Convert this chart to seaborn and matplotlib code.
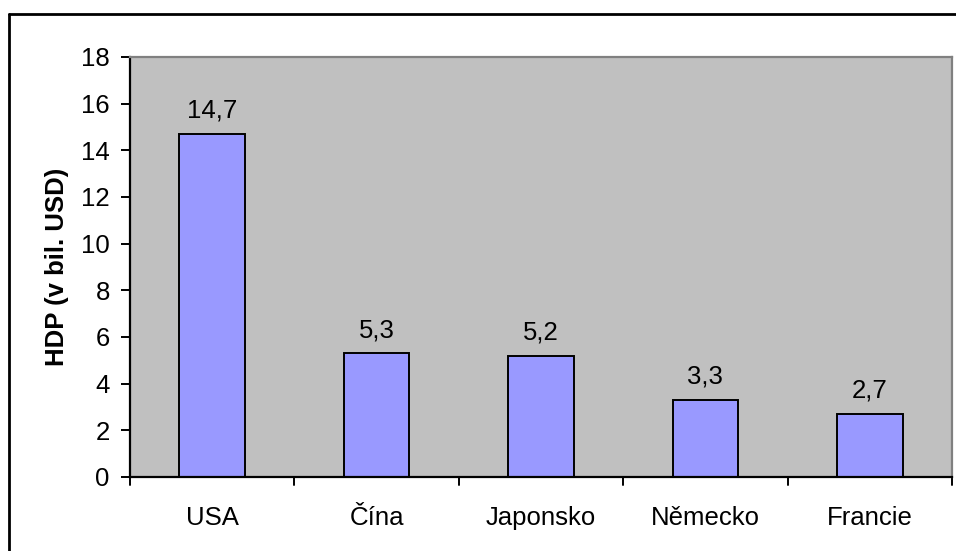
import matplotlib
matplotlib.use("Agg")
import matplotlib.pyplot as plt
import seaborn as sns
import pandas as pd
from matplotlib.lines import Line2D

categories = ["USA", "Čína", "Japonsko", "Německo", "Francie"]
values = [14.7, 5.3, 5.2, 3.3, 2.7]
yticks = [0, 2, 4, 6, 8, 10, 12, 14, 16, 18]

sns.set_theme(style="white")
plt.rcParams['font.family'] = ['Liberation Sans', 'DejaVu Sans']
plt.rcParams['text.color'] = 'black'
plt.rcParams['axes.labelcolor'] = 'black'
plt.rcParams['xtick.color'] = 'black'
plt.rcParams['ytick.color'] = 'black'

df = pd.DataFrame({"country": categories, "hdp": values})

W, H = 956, 551
FS = 18.5
fig = plt.figure(figsize=(W / 100, H / 100), dpi=100)
fig.patch.set_facecolor("white")
# figure border (left and top visible, cropped at right/bottom)
fig.add_artist(Line2D([8.5 / W, 8.5 / W], [0, 1 - 14 / H], transform=fig.transFigure,
                      color="black", linewidth=2))
fig.add_artist(Line2D([8.5 / W, 1], [1 - 14 / H, 1 - 14 / H], transform=fig.transFigure,
                      color="black", linewidth=2))

ax = fig.add_axes([130 / W, 1 - 477 / H, (952 - 130) / W, (477 - 57) / H])
ax.set_facecolor("#C0C0C0")

sns.barplot(data=df, x="country", y="hdp", ax=ax, color="#9999FF",
            edgecolor="black", linewidth=1.4, width=0.4, saturation=1)

ax.set_ylim(0, 18)
ax.set_xlim(-0.5, len(categories) - 0.5)
ax.set_yticks(yticks)
ax.set_yticklabels([str(t) for t in yticks], fontsize=FS)
ax.set_xticks(range(len(categories)))
ax.set_xticklabels(categories, fontsize=FS)
ax.tick_params(axis="x", length=0, pad=21)
ax.tick_params(axis="y", length=6.5, width=1.4, direction="out", left=True, pad=8)
# x tick marks at category boundaries
for b in [i - 0.5 for i in range(len(categories) + 1)]:
    ax.plot([b, b], [0, -0.33], color="black", linewidth=1.4, clip_on=False)

for side in ["left", "bottom"]:
    ax.spines[side].set_color("black")
    ax.spines[side].set_linewidth(1.6)
for side in ["top", "right"]:
    ax.spines[side].set_color("#808080")
    ax.spines[side].set_linewidth(1.6)
    ax.spines[side].set_visible(True)

ax.set_xlabel("")
ax.set_ylabel("HDP (v bil. USD)", fontsize=FS, fontweight="bold", labelpad=9)

for i, v in enumerate(values):
    ax.annotate(f"{v:.1f}".replace(".", ","), (i, v), xytext=(0, 8),
                textcoords="offset points", ha="center", va="bottom", fontsize=FS)

fig.savefig("out.png", dpi=100)
